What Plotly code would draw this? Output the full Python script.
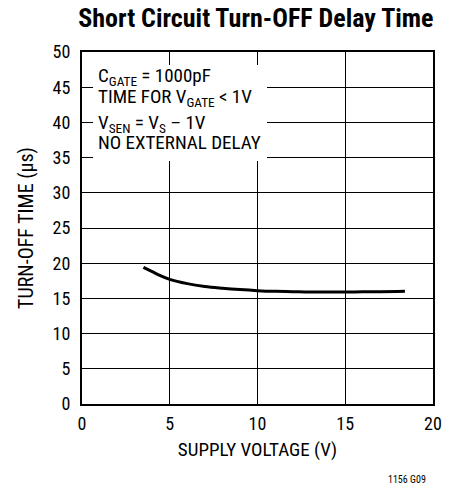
import plotly.graph_objects as go

supply_v = [3.5, 4.0, 4.5, 5.0, 6.0, 7.0, 8.0, 9.0, 10.0, 11.0, 12.0, 13.0, 14.0, 15.0, 16.0, 17.0, 18.4]
turnoff_us = [19.4, 18.8, 18.2, 17.7, 17.1, 16.7, 16.45, 16.25, 16.1, 16.0, 15.95, 15.9, 15.9, 15.9, 15.95, 15.95, 16.0]

x_ticks = [0, 5, 10, 15, 20]
y_ticks = [0, 5, 10, 15, 20, 25, 30, 35, 40, 45, 50]

FONT = "Liberation Sans Narrow, Arial Narrow, Roboto Condensed, Liberation Sans, sans-serif"

fig = go.Figure()
fig.add_trace(go.Scatter(x=supply_v, y=turnoff_us, mode="lines",
                         line=dict(color="black", width=3, shape="spline"),
                         showlegend=False, hoverinfo="skip"))

fig.add_shape(type="rect", x0=0.63, x1=10.54, y0=34.5, y1=48.15,
              fillcolor="white", line=dict(width=0), layer="above")

notes = [
    ("C<sub>GATE</sub> = 1000pF", 0.929),
    ("TIME FOR V<sub>GATE</sub> < 1V", 0.872),
    ("V<sub>SEN</sub> = V<sub>S</sub> – 1V", 0.798),
    ("NO EXTERNAL DELAY", 0.744),
]
for txt, yp in notes:
    fig.add_annotation(text=txt, xref="paper", yref="paper", x=0.041, y=yp,
                       xanchor="left", yanchor="middle", showarrow=False,
                       font=dict(family=FONT, size=19, color="black"))

fig.add_annotation(text="1156 G09", xref="paper", yref="paper", x=0.985, y=-0.215,
                   xanchor="right", yanchor="middle", showarrow=False,
                   font=dict(family=FONT, size=10, color="black"))

fig.update_layout(
    width=461, height=489,
    margin=dict(l=82, r=28, t=52, b=85),
    paper_bgcolor="white", plot_bgcolor="white",
    font=dict(family=FONT, size=18, color="black"),
    title=dict(text="<b>Short Circuit Turn-OFF Delay Time</b>", x=0.555, xanchor="center",
               y=0.963, yanchor="middle", font=dict(family=FONT, size=26, color="black")),
)
fig.update_xaxes(range=[0, 20], tickvals=x_ticks, showgrid=True, gridcolor="black", gridwidth=1,
                 showline=True, linecolor="black", linewidth=2, mirror=True, zeroline=False,
                 ticks="outside", ticklen=2, tickcolor="rgba(0,0,0,0)",
                 title=dict(text="SUPPLY VOLTAGE (V)", standoff=10, font=dict(size=19)))
fig.update_yaxes(range=[0, 50], tickvals=y_ticks, showgrid=True, gridcolor="black", gridwidth=1,
                 showline=True, linecolor="black", linewidth=2, mirror=True, zeroline=False,
                 ticks="outside", ticklen=6, tickcolor="rgba(0,0,0,0)",
                 title=dict(text="TURN-OFF TIME (µs)", standoff=14, font=dict(size=20)))

fig.write_html("out.html", config={"displayModeBar": False},
               post_script="document.body.style.margin='0';")
